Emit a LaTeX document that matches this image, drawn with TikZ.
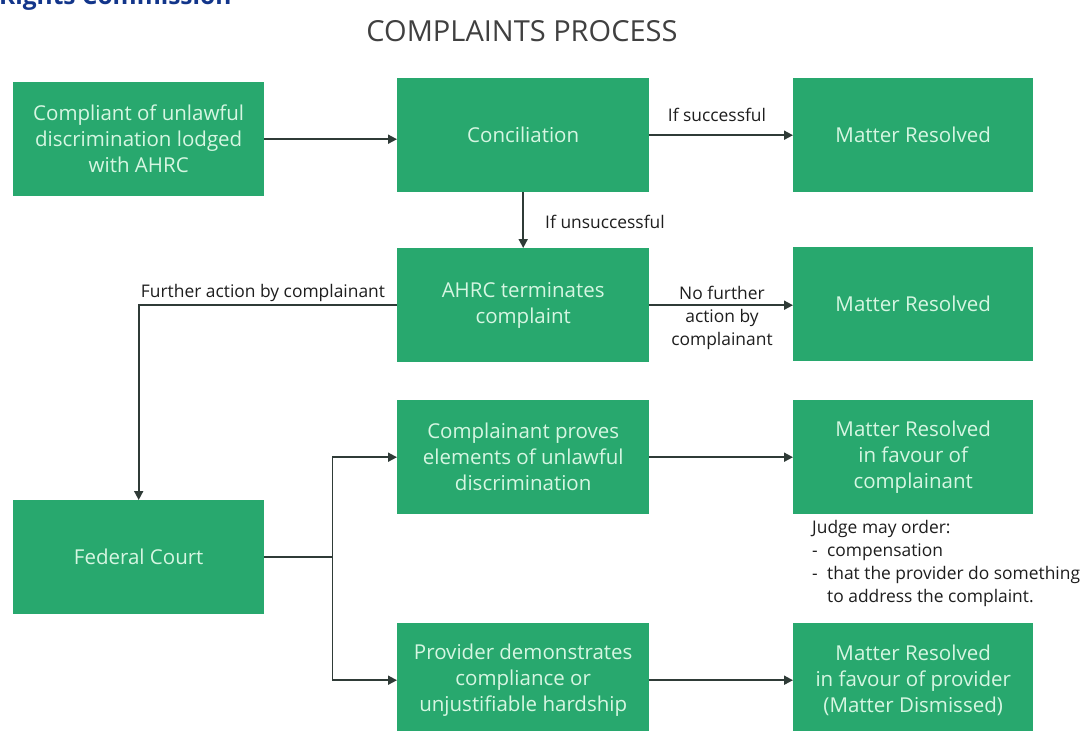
\documentclass[tikz,border=0pt]{standalone}
\usepackage{fontspec}
\setmainfont{Open Sans}
\usetikzlibrary{arrows.meta}
\definecolor{boxgreen}{HTML}{28A86E}
\definecolor{boxtext}{HTML}{D6F6E2}
\definecolor{linecol}{HTML}{2F3B37}
\definecolor{labelcol}{HTML}{1E1E1E}
\definecolor{rcblue}{HTML}{12358A}
\begin{document}
\begin{tikzpicture}[x=1pt,y=-1pt,
  box/.style={fill=boxgreen, text=boxtext, align=center, inner sep=0pt, anchor=north west,
    font=\fontsize{20.5}{26}\selectfont},
  lbl/.style={text=labelcol, align=center, inner sep=0pt, font=\fontsize{17.4}{23}\selectfont},
  arr/.style={draw=linecol, line width=1.8pt, -{Triangle[length=9pt,width=9pt]}},
  ln/.style={draw=linecol, line width=1.8pt}]
\clip (0,0) rectangle (1088,731);
\fill[white] (0,0) rectangle (1088,731);
% clipped header
\node[anchor=base west, inner sep=0pt, text=rcblue, font=\bfseries\fontsize{24.5}{28}\selectfont] (rc) at (-1,4) {Rights Commission};
\node[inner sep=0pt, text=labelcol!85, font=\fontsize{29}{32}\selectfont] (title) at (522,31) {COMPLAINTS PROCESS};
% boxes
\node[box, minimum width=251pt, minimum height=114pt] (lodge) at (13,82) {Compliant of unlawful\\discrimination lodged\\with AHRC};
\node[box, minimum width=252pt, minimum height=114pt] (conc) at (397,78) {Conciliation};
\node[box, minimum width=240pt, minimum height=114pt] (mr1) at (793,78) {Matter Resolved};
\node[box, minimum width=252pt, minimum height=114pt] (ahrc) at (397,248) {AHRC terminates\\complaint};
\node[box, minimum width=240pt, minimum height=114pt] (mr2) at (793,247) {Matter Resolved};
\node[box, minimum width=251pt, minimum height=114pt] (fc) at (13,500) {Federal Court};
\node[box, minimum width=252pt, minimum height=114pt] (cp) at (397,400) {Complainant proves\\elements of unlawful\\discrimination};
\node[box, minimum width=240pt, minimum height=114pt] (mrc) at (793,400) {Matter Resolved\\in favour of\\complainant};
\node[box, minimum width=252pt, minimum height=114pt] (pd) at (397,623) {Provider demonstrates\\compliance or\\unjustifiable hardship};
\node[box, minimum width=240pt, minimum height=114pt] (mrp) at (793,623) {Matter Resolved\\in favour of provider\\(Matter Dismissed)};
% labels
\node[lbl] (ifs) at (717,115) {If successful};
\node[lbl] (ifu) at (605,222) {If unsuccessful};
\node[lbl] (fa) at (263,293) {Further action by complainant};
\node[lbl] (nf) at (722,318) {No further\\action by\\complainant};
\node[lbl, anchor=north west, align=left] (judge) at (812,520) {Judge may order:\\
\makebox[15pt][l]{-}compensation\\
\makebox[15pt][l]{-}that the provider do something\\
\makebox[15pt][l]{}to address the complaint.};
% connectors
\draw[arr] (lodge.east) -- (lodge.east -| conc.west);
\draw[arr] (conc.east) -- (mr1.west);
\draw[arr] (conc.south) -- (ahrc.north);
\draw[arr] (ahrc.east) -- (ahrc.east -| mr2.west);
\draw[arr] (ahrc.west) -| (fc.north);
\coordinate (split) at ([xshift=68pt]fc.east);
\draw[ln] (fc.east) -- (split);
\draw[arr] (split) |- (cp.west);
\draw[arr] (split) |- (pd.west);
\draw[arr] (cp.east) -- (mrc.west);
\draw[arr] (pd.east) -- (mrp.west);
\end{tikzpicture}
\end{document}
